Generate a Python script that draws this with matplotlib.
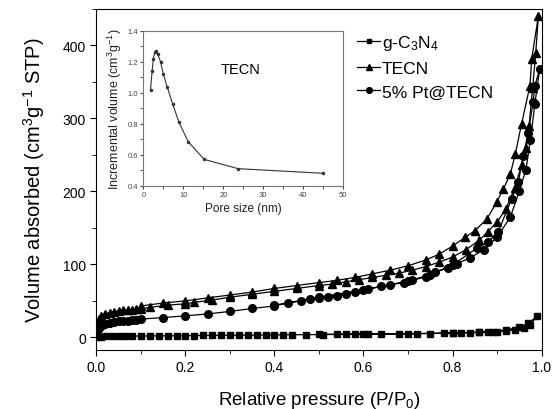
import matplotlib
matplotlib.use("Agg")
import matplotlib.pyplot as plt
from matplotlib.ticker import MultipleLocator

plt.rcParams['font.family'] = ['Liberation Sans', 'DejaVu Sans']
plt.rcParams['mathtext.fontset'] = 'custom'
plt.rcParams['mathtext.rm'] = 'Liberation Sans'
plt.rcParams['mathtext.default'] = 'regular'

# ---- g-C3N4 isotherm (squares)
gcn_p_ads = [0.002, 0.01, 0.02, 0.035, 0.05, 0.065, 0.08, 0.1, 0.12, 0.14, 0.16, 0.18, 0.2,
             0.22, 0.24, 0.26, 0.28, 0.3, 0.32, 0.34, 0.36, 0.38, 0.4, 0.42, 0.44, 0.47,
             0.51, 0.54, 0.56, 0.58, 0.61, 0.64, 0.68, 0.72, 0.75, 0.78, 0.8, 0.82, 0.84,
             0.86, 0.88, 0.9, 0.92, 0.94, 0.96, 0.975, 0.99]
gcn_v_ads = [0.5, 1.0, 1.2, 1.4, 1.5, 1.6, 1.7, 1.8, 1.9, 2.0, 2.1, 2.2, 2.3, 2.4, 2.5, 2.6,
             2.7, 2.8, 2.9, 3.0, 3.1, 3.2, 3.3, 3.4, 3.5, 3.6, 3.8, 3.9, 4.0, 4.1, 4.3, 4.5,
             4.7, 4.9, 5.2, 5.5, 5.8, 6.1, 6.4, 6.8, 7.2, 7.9, 8.8, 10.3, 13.0, 17.0, 29.0]
gcn_p_des = [0.97, 0.95, 0.92, 0.89, 0.86, 0.8, 0.7, 0.6, 0.5]
gcn_v_des = [19.0, 14.0, 10.0, 7.8, 7.0, 6.0, 5.0, 4.5, 4.0]

# ---- TECN isotherm (triangles)
tecn_p_ads = [0.002, 0.005, 0.01, 0.02, 0.03, 0.04, 0.05, 0.06, 0.07, 0.08, 0.09, 0.1, 0.12,
              0.16, 0.2, 0.22, 0.26, 0.3, 0.35, 0.4, 0.45, 0.5, 0.53, 0.56, 0.59, 0.62, 0.65,
              0.68, 0.71, 0.74, 0.77, 0.8, 0.83, 0.86, 0.88, 0.9, 0.92, 0.94, 0.955, 0.965,
              0.972, 0.98, 0.987, 0.993]
tecn_v_ads = [18, 25, 29, 32, 34, 35, 36, 37, 37.5, 38, 38.5, 39, 41, 44, 46, 48, 51, 55, 59,
              63, 67, 71, 73, 76, 79, 82, 85, 88, 92, 97, 103, 110, 120, 133, 145, 158, 176,
              205, 236, 260, 290, 342, 390, 441]
tecn_p_des = [0.978, 0.974, 0.955, 0.941, 0.93, 0.914, 0.899, 0.877, 0.85, 0.828, 0.8, 0.77,
              0.74, 0.7, 0.66, 0.62, 0.58, 0.54, 0.5, 0.45, 0.4, 0.35, 0.3, 0.25, 0.2, 0.15, 0.1]
tecn_v_des = [382, 345, 292, 251, 224, 203, 185, 162, 146, 137, 125, 114, 106, 98, 92, 87,
              82, 78, 75, 71, 67, 62, 58, 54, 50, 47, 43]

# ---- 5% Pt@TECN isotherm (circles)
pt_p_ads = [0.002, 0.005, 0.01, 0.02, 0.03, 0.04, 0.05, 0.06, 0.07, 0.08, 0.09, 0.1, 0.15,
            0.2, 0.25, 0.3, 0.35, 0.4, 0.43, 0.46, 0.48, 0.5, 0.52, 0.54, 0.56, 0.58, 0.61,
            0.64, 0.66, 0.69, 0.71, 0.74, 0.76, 0.79, 0.81, 0.84, 0.87, 0.9, 0.93, 0.95,
            0.965, 0.975, 0.985, 0.996]
pt_v_ads = [8, 13, 16, 18.5, 20, 21, 22, 22.5, 23, 23.5, 24, 25, 27, 29.5, 32, 35.5, 39.5,
            43, 47, 50, 52, 54, 55.5, 57, 59, 62, 66, 70, 72, 75, 78, 83, 89, 95, 101, 109,
            120, 137, 165, 200, 230, 270, 320, 368]
pt_p_des = [0.985, 0.981, 0.97, 0.959, 0.948, 0.933, 0.903, 0.88, 0.854, 0.8, 0.75, 0.7,
            0.6, 0.5, 0.4]
pt_v_des = [345, 322, 280, 249, 213, 190, 145, 130, 122, 99, 86, 77, 65, 55, 44]

# ---- inset: pore size distribution of TECN
pore_size = [1.8, 2.2, 2.5, 2.9, 3.2, 3.6, 4.3, 5.0, 6.0, 7.3, 8.9, 11.2, 15.2, 23.7, 45.0]
incr_vol = [1.02, 1.14, 1.22, 1.265, 1.272, 1.25, 1.2, 1.12, 1.035, 0.93, 0.81, 0.685,
            0.57, 0.51, 0.48]

fig = plt.figure(figsize=(5.54, 4.10), dpi=100)
ax = fig.add_axes([0.174, 0.1446, 0.8035, 0.831])

ax.plot(gcn_p_ads + gcn_p_des, gcn_v_ads + gcn_v_des, '-', color='k', lw=0.9,
        marker='s', ms=4.5, label='g-C$_3$N$_4$')
ax.plot(tecn_p_ads + tecn_p_des, tecn_v_ads + tecn_v_des, '-', color='k', lw=0.9,
        marker='^', ms=6, label='TECN')
ax.plot(pt_p_ads + pt_p_des, pt_v_ads + pt_v_des, '-', color='k', lw=0.9,
        marker='o', ms=5.5, label='5% Pt@TECN')

ax.set_xlim(0, 1.0)
ax.set_ylim(-17, 450)
ax.xaxis.set_major_locator(MultipleLocator(0.2))
ax.xaxis.set_minor_locator(MultipleLocator(0.1))
ax.yaxis.set_major_locator(MultipleLocator(100))
ax.yaxis.set_minor_locator(MultipleLocator(50))
ax.tick_params(which='both', direction='out', top=False, right=False, labelsize=10)
ax.tick_params(which='major', length=4)
ax.tick_params(which='minor', length=3)
ax.set_xlabel('Relative pressure (P/P$_0$)', fontsize=13.5, labelpad=11)
ax.set_ylabel('Volume absorbed (cm$^3$g$^{-1}$ STP)', fontsize=14.5, labelpad=11)

ax.legend(loc='upper left', bbox_to_anchor=(0.586, 0.93), frameon=False, fontsize=12.5,
          handlelength=1.3, handletextpad=0.1, labelspacing=0.5, borderpad=0,
          borderaxespad=0, markerscale=0.75)

# inset
ins = fig.add_axes([0.2587, 0.5446, 0.361, 0.378])
ins.plot(pore_size, incr_vol, '-', color='#333333', lw=0.8, marker='o', ms=1.5)
ins.set_xlim(0, 50)
ins.set_ylim(0.4, 1.4)
ins.xaxis.set_major_locator(MultipleLocator(10))
ins.xaxis.set_minor_locator(MultipleLocator(5))
ins.yaxis.set_major_locator(MultipleLocator(0.2))
ins.yaxis.set_minor_locator(MultipleLocator(0.1))
ins.tick_params(which='both', direction='out', top=False, right=False, labelsize=5.5,
                colors='#444444', length=2, pad=1.5)
for s in ins.spines.values():
    s.set_color('#777777')
    s.set_linewidth(0.8)
ins.set_xlabel('Pore size (nm)', fontsize=8.5, color='#222222', labelpad=3)
ins.set_ylabel('Incremental volume (cm$^3$g$^{-1}$)', fontsize=9, color='#222222',
               labelpad=3)
ins.text(24.2, 1.15, 'TECN', fontsize=10.5, ha='center', va='center')

fig.savefig('out.png', dpi=100)
